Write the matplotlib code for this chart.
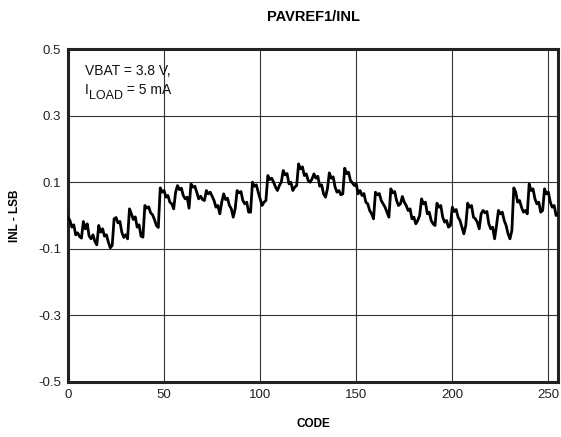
import matplotlib
matplotlib.use("Agg")
import matplotlib.pyplot as plt
from matplotlib.ticker import FuncFormatter
import numpy as np

plt.rcParams['font.family'] = ['Liberation Sans', 'DejaVu Sans']

title = "PAVREF1/INL"
x_label = "CODE"
y_label = "INL - LSB"
x_ticks = [0, 50, 100, 150, 200, 250]
y_ticks = [-0.5, -0.3, -0.1, 0.1, 0.3, 0.5]

# INL values for codes 0..255 (8 codes per row)
inl = [
    -0.005, -0.015, -0.035, -0.028, -0.058, -0.052, -0.063, -0.068,
    -0.018, -0.040, -0.025, -0.062, -0.070, -0.058, -0.078, -0.088,
    -0.030, -0.050, -0.040, -0.062, -0.058, -0.080, -0.097, -0.090,
    -0.010, -0.006, -0.022, -0.018, -0.050, -0.066, -0.058, -0.070,
    0.020, 0.005, -0.012, -0.004, -0.035, -0.028, -0.062, -0.065,
    0.030, 0.022, 0.026, 0.008, 0.002, -0.012, -0.030, -0.036,
    0.083, 0.070, 0.075, 0.055, 0.060, 0.040, 0.035, 0.020,
    0.070, 0.090, 0.078, 0.082, 0.060, 0.050, 0.055, 0.022,
    0.095, 0.085, 0.088, 0.070, 0.050, 0.058, 0.048, 0.045,
    0.075, 0.065, 0.070, 0.058, 0.045, 0.025, 0.030, 0.005,
    0.040, 0.065, 0.048, 0.052, 0.030, 0.020, -0.005, 0.020,
    0.075, 0.068, 0.072, 0.045, 0.035, 0.040, 0.010, 0.010,
    0.100, 0.088, 0.092, 0.070, 0.050, 0.030, 0.040, 0.045,
    0.120, 0.108, 0.112, 0.100, 0.085, 0.075, 0.090, 0.100,
    0.135, 0.122, 0.126, 0.095, 0.100, 0.075, 0.085, 0.090,
    0.155, 0.140, 0.146, 0.120, 0.125, 0.105, 0.100, 0.110,
    0.125, 0.112, 0.118, 0.088, 0.092, 0.065, 0.055, 0.080,
    0.128, 0.112, 0.116, 0.085, 0.070, 0.075, 0.062, 0.065,
    0.142, 0.126, 0.130, 0.105, 0.098, 0.090, 0.095, 0.065,
    0.075, 0.060, 0.066, 0.040, 0.035, 0.015, 0.005, -0.010,
    0.070, 0.062, 0.066, 0.045, 0.035, 0.025, 0.010, -0.005,
    0.080, 0.068, 0.072, 0.045, 0.030, 0.035, 0.057, 0.040,
    0.030, 0.015, 0.020, -0.010, -0.005, -0.025, -0.015, 0.000,
    0.050, 0.035, 0.040, 0.005, 0.010, -0.015, -0.025, -0.030,
    0.037, 0.025, 0.030, -0.005, -0.020, -0.015, -0.035, -0.030,
    0.025, 0.012, 0.018, -0.005, -0.015, -0.035, -0.055, -0.030,
    0.037, 0.025, 0.030, -0.005, -0.010, -0.020, -0.040, 0.005,
    0.015, 0.008, 0.012, -0.025, -0.040, -0.035, -0.070, -0.030,
    0.015, 0.005, 0.010, -0.015, -0.030, -0.055, -0.070, -0.045,
    0.083, 0.070, 0.040, 0.045, 0.025, 0.010, 0.015, 0.005,
    0.095, 0.075, 0.080, 0.050, 0.035, 0.040, 0.010, 0.015,
    0.080, 0.065, 0.070, 0.040, 0.025, 0.030, 0.000, 0.005,
]
codes = np.arange(len(inl))

fig = plt.figure(figsize=(5.61, 4.37), dpi=100)
ax = fig.add_axes([68 / 561, 55 / 437, 490 / 561, 333 / 437])

ax.plot(codes, inl, color='black', linewidth=2.0, zorder=3)

ax.set_xlim(0, 255)
ax.set_ylim(-0.5, 0.5)
ax.set_xticks(x_ticks)
ax.set_yticks(y_ticks)
ax.yaxis.set_major_formatter(FuncFormatter(lambda v, p: f"{v:.1f}".replace("\u2212", "-")))
ax.tick_params(length=0, labelsize=9.5, pad=5, colors='#222222')
ax.grid(True, color='#333333', linewidth=0.8)
ax.set_axisbelow(True)
for s in ax.spines.values():
    s.set_linewidth(2.2)
    s.set_color('#222222')

ax.set_title(title, fontsize=10.5, fontweight='bold', pad=20)
ax.set_xlabel(x_label, fontsize=8.5, fontweight='bold', labelpad=12)
ax.set_ylabel(y_label, fontsize=8.5, fontweight='bold', labelpad=12)

ax.text(0.035, 0.955, "VBAT = 3.8 V,", transform=ax.transAxes, fontsize=10,
        va='top', ha='left', color='#111111')
t1 = ax.text(0.035, 0.855, "I", transform=ax.transAxes, fontsize=10,
             va='bottom', ha='left', color='#111111')
t2 = ax.annotate("LOAD", xy=(1, 0), xycoords=t1, xytext=(0.3, -3.5),
                 textcoords='offset points', fontsize=9, va='bottom', ha='left',
                 color='#111111')
ax.annotate(" = 5 mA", xy=(1, 0), xycoords=t2, xytext=(0, 3.5),
            textcoords='offset points', fontsize=10, va='bottom', ha='left',
            color='#111111')

fig.savefig("out.png", dpi=100, facecolor='white')
